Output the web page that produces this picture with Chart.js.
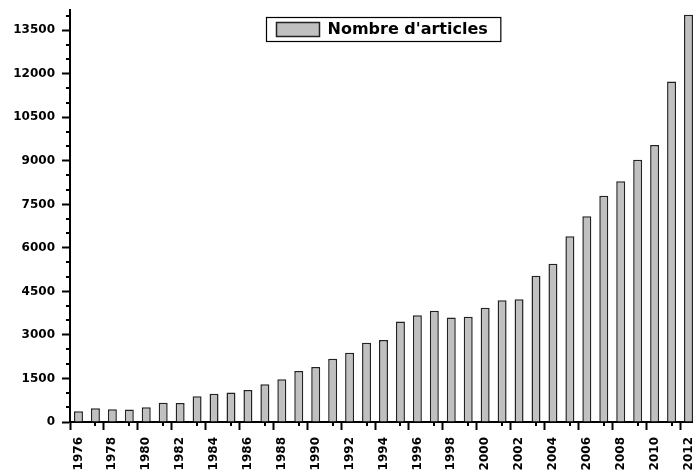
<!DOCTYPE html>
<html>
<head>
<meta charset="utf-8">
<script src="https://cdn.jsdelivr.net/npm/chart.js@4/dist/chart.umd.min.js"></script>
<style>
  body{margin:0;overflow:hidden;background:#fff;}
</style>
</head>
<body>
<canvas id="articles" width="710" height="470"></canvas>
<script>
// years and number of articles
const years = [];
for (let y = 1976; y <= 2012; y++) years.push(String(y));
const articles = [370, 470, 440, 435, 505, 665, 655, 885, 975, 1015,
  1100, 1305, 1470, 1755, 1895, 2180, 2390, 2730, 2825, 3465,
  3675, 3835, 3605, 3630, 3940, 4200, 4235, 5040, 5455, 6405,
  7095, 7795, 8300, 9035, 9550, 11735, 14040];
const yTicks = [0, 1500, 3000, 4500, 6000, 7500, 9000, 10500, 12000, 13500];
const yMinorTicks = [500, 1000, 2000, 2500, 3500, 4000, 5000, 5500, 6500, 7000,
  8000, 8500, 9500, 10000, 11000, 11500, 12500, 13000, 14000];
const yMax = 14200;
const legendLabel = "Nombre d'articles";

const fontFam = "'DejaVu Sans', sans-serif";
const barFill = '#c0c0c0';
const barEdge = '#222';

// minor ticks + boxed legend inside the plot
const extras = {
  id: 'extras',
  afterDraw(c) {
    const ctx = c.ctx;
    const xs = c.scales.x, ys = c.scales.y;
    const area = c.chartArea;
    ctx.save();
    ctx.strokeStyle = '#000';
    ctx.lineWidth = 2;
    ctx.beginPath();
    for (let i = 1; i < years.length; i += 2) {
      const px = Math.round(xs.getPixelForValue(i));
      ctx.moveTo(px, area.bottom);
      ctx.lineTo(px, area.bottom + 4);
    }
    yMinorTicks.forEach(v => {
      const py = Math.round(ys.getPixelForValue(v));
      ctx.moveTo(area.left, py);
      ctx.lineTo(area.left - 4, py);
    });
    ctx.stroke();

    // legend, centred on the visible part of the plot
    ctx.font = 'bold 16px ' + fontFam;
    const tw = ctx.measureText(legendLabel).width;
    const w = 10 + 43 + 8 + tw + 13;
    const lx = Math.round(383 - w / 2) + 0.5;
    const ly = area.top + 7.5;
    ctx.lineWidth = 1.2;
    ctx.strokeRect(lx, ly, w, 24);
    ctx.fillStyle = barFill;
    ctx.fillRect(lx + 10, ly + 5, 43, 14);
    ctx.strokeStyle = barEdge;
    ctx.lineWidth = 1.5;
    ctx.strokeRect(lx + 10, ly + 5, 43, 14);
    ctx.fillStyle = '#000';
    ctx.textBaseline = 'middle';
    ctx.textAlign = 'left';
    ctx.fillText(legendLabel, lx + 61, ly + 12.5);
    ctx.restore();
  }
};

const chart = new Chart(document.getElementById('articles').getContext('2d'), {
  type: 'bar',
  data: {
    labels: years,
    datasets: [{
      label: legendLabel,
      data: articles,
      backgroundColor: barFill,
      borderColor: barEdge,
      borderWidth: 1.5,
      barPercentage: 0.53,
      categoryPercentage: 1
    }]
  },
  options: {
    responsive: false,
    animation: false,
    layout: {padding: {top: 10, right: 7, left: 7, bottom: 0}},
    scales: {
      x: {
        offset: true,
        afterFit: (scale) => { scale.height = 48; },
        grid: {
          display: true,
          drawOnChartArea: false,
          tickLength: 8,
          tickWidth: 2,
          tickColor: (ctx) => ctx.index % 2 === 0 ? '#000' : 'rgba(0,0,0,0)'
        },
        border: {display: true, color: '#000', width: 2},
        ticks: {
          autoSkip: false,
          minRotation: 90,
          maxRotation: 90,
          padding: 7,
          color: '#000',
          font: {family: fontFam, weight: 'bold', size: 12},
          callback: function (val, i) { return i % 2 === 0 ? years[i] : ''; }
        }
      },
      y: {
        min: 0,
        max: yMax,
        afterBuildTicks: (scale) => {
          scale.ticks = yTicks.map(v => ({value: v}));
        },
        afterFit: (scale) => {
          scale.width = 63;
          scale.paddingTop = 0;
          scale.paddingBottom = 0;
        },
        grid: {
          display: true,
          drawOnChartArea: false,
          tickLength: 8,
          tickWidth: 2,
          tickColor: '#000'
        },
        border: {display: true, color: '#000', width: 2},
        ticks: {
          padding: 7,
          color: '#000',
          font: {family: fontFam, weight: 'bold', size: 12},
          callback: (v) => String(v)
        }
      }
    },
    plugins: {
      legend: {display: false},
      tooltip: {enabled: false}
    }
  },
  plugins: [extras]
});
</script>
</body>
</html>
